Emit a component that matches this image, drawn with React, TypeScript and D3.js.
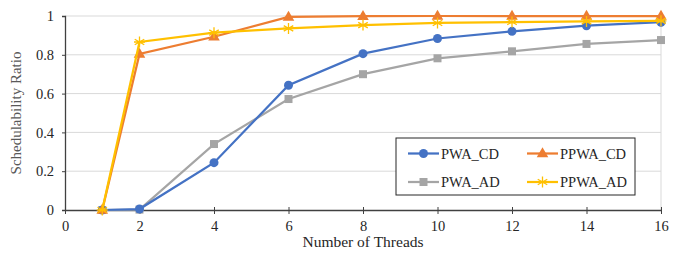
import React, { useEffect, useRef } from "react";
import * as d3 from "d3";

const threads = [1, 2, 4, 6, 8, 10, 12, 14, 16];
const pwaCD = [0, 0.005, 0.244, 0.643, 0.806, 0.884, 0.921, 0.95, 0.968];
const ppwaCD = [0, 0.804, 0.893, 0.995, 0.999, 1.0, 1.0, 1.0, 1.0];
const pwaAD = [0, 0.002, 0.34, 0.572, 0.7, 0.782, 0.818, 0.856, 0.876];
const ppwaAD = [0, 0.866, 0.914, 0.936, 0.953, 0.964, 0.969, 0.972, 0.975];

const xTicks = [0, 2, 4, 6, 8, 10, 12, 14, 16];
const yTicks = [0, 0.2, 0.4, 0.6, 0.8, 1];

interface Series {
  name: string;
  color: string;
  marker: string;
  values: number[];
}

const series: Series[] = [
  { name: "PWA_CD", color: "#4472C4", marker: "circle", values: pwaCD },
  { name: "PPWA_CD", color: "#ED7D31", marker: "triangle", values: ppwaCD },
  { name: "PWA_AD", color: "#A5A5A5", marker: "square", values: pwaAD },
  { name: "PPWA_AD", color: "#FFC000", marker: "star", values: ppwaAD },
];

const font = "'Liberation Serif', 'Times New Roman', serif";

function drawMarker(g: d3.Selection<SVGGElement, unknown, null, undefined>, kind: string, x: number, y: number, color: string) {
  if (kind === "circle") {
    g.append("circle").attr("cx", x).attr("cy", y).attr("r", 4.5).attr("fill", color);
  } else if (kind === "square") {
    g.append("rect").attr("x", x - 4).attr("y", y - 4).attr("width", 8).attr("height", 8).attr("fill", color);
  } else if (kind === "triangle") {
    g.append("path").attr("d", d3.symbol(d3.symbolTriangle, 58)()).attr("transform", `translate(${x},${y + 0.5})`).attr("fill", color);
  } else {
    const r = 5.5;
    const p = [0, 60, 120].map((a) => {
      const t = (a * Math.PI) / 180;
      return `M${x + r * Math.sin(t)},${y - r * Math.cos(t)}L${x - r * Math.sin(t)},${y + r * Math.cos(t)}`;
    }).join("");
    g.append("path").attr("d", p + `M${x - r},${y}L${x + r},${y}`).attr("stroke", color).attr("stroke-width", 1.3).attr("fill", "none");
  }
}

const App: React.FC = () => {
  const ref = useRef<SVGSVGElement | null>(null);

  useEffect(() => {
    if (!ref.current) return;
    const svg = d3.select(ref.current);
    svg.selectAll("*").remove();

    const width = 681;
    const height = 255;
    const margin = { top: 16, right: 20, bottom: 45, left: 65 };
    const cw = width - margin.left - margin.right;
    const ch = height - margin.top - margin.bottom;

    const x = d3.scaleLinear().domain([0, 16]).range([0, cw]);
    const y = d3.scaleLinear().domain([0, 1]).range([ch, 0]);

    svg.append("rect").attr("width", width).attr("height", height).attr("fill", "#fff");

    const g = svg.append("g").attr("transform", `translate(${margin.left},${margin.top})`);

    // gridlines
    g.selectAll(".grid")
      .data(yTicks.slice(1))
      .join("line")
      .attr("x1", 0)
      .attr("x2", cw)
      .attr("y1", (d) => y(d))
      .attr("y2", (d) => y(d))
      .attr("stroke", "#D9D9D9")
      .attr("stroke-width", 1);
    g.append("line").attr("x1", cw).attr("x2", cw).attr("y1", 0).attr("y2", ch).attr("stroke", "#D9D9D9");

    // Y axis
    const yAxis = g.append("g").call(d3.axisLeft(y).tickValues(yTicks).tickSize(3).tickFormat((d) => d3.format("~g")(d as number)));
    yAxis.select(".domain").attr("stroke", "#404040").attr("stroke-width", 1.3);
    yAxis.selectAll(".tick line").attr("stroke", "#404040");
    yAxis.selectAll("text").attr("font-family", font).attr("font-size", 14.5).attr("fill", "#262626").attr("x", -11);

    // X axis
    const xAxis = g.append("g").attr("transform", `translate(0,${ch})`).call(d3.axisBottom(x).tickValues(xTicks).tickSize(4).tickSizeOuter(0));
    xAxis.select(".domain").attr("stroke", "#404040").attr("stroke-width", 1.3);
    xAxis.selectAll(".tick line").attr("stroke", "#404040").attr("y1", -3).attr("y2", 4);
    xAxis.selectAll("text").attr("font-family", font).attr("font-size", 14.5).attr("fill", "#262626").attr("y", 11);

    // titles
    g.append("text")
      .attr("x", cw / 2)
      .attr("y", ch + 37)
      .attr("text-anchor", "middle")
      .attr("font-family", font)
      .attr("font-size", 15.5)
      .attr("fill", "#262626")
      .text("Number of Threads");
    g.append("text")
      .attr("transform", `translate(${-44},${ch / 2}) rotate(-90)`)
      .attr("text-anchor", "middle")
      .attr("font-family", font)
      .attr("font-size", 15)
      .attr("fill", "#595959")
      .text("Schedulability Ratio");

    const line = d3.line<number>().x((_, i) => x(threads[i])).y((d) => y(d));

    const order = [2, 0, 1, 3];
    order.forEach((k) => {
      const s = series[k];
      g.append("path").datum(s.values).attr("fill", "none").attr("stroke", s.color).attr("stroke-width", 2.25).attr("d", line);
      const mg = g.append("g");
      s.values.forEach((v, i) => drawMarker(mg, s.marker, x(threads[i]), y(v), s.color));
    });

    // legend
    const lg = svg.append("g").attr("transform", "translate(396,138)");
    lg.append("rect").attr("width", 239).attr("height", 57).attr("fill", "#fff").attr("stroke", "#262626").attr("stroke-width", 1);
    series.forEach((s, i) => {
      const col = i % 2;
      const row = Math.floor(i / 2);
      const lx = 12 + col * 119;
      const ly = 15.5 + row * 28.5;
      const rg = lg.append("g");
      rg.append("line").attr("x1", lx).attr("x2", lx + 31).attr("y1", ly).attr("y2", ly).attr("stroke", s.color).attr("stroke-width", 2.25);
      drawMarker(rg, s.marker, lx + 15.5, ly, s.color);
      rg.append("text")
        .attr("x", lx + 33)
        .attr("y", ly + 5)
        .attr("font-family", font)
        .attr("font-size", 14.5)
        .attr("fill", "#262626")
        .text(s.name);
    });
  }, []);

  return <svg ref={ref} width={681} height={255} style={{ position: "absolute", left: 0, top: 0 }} />;
};

export default App;
